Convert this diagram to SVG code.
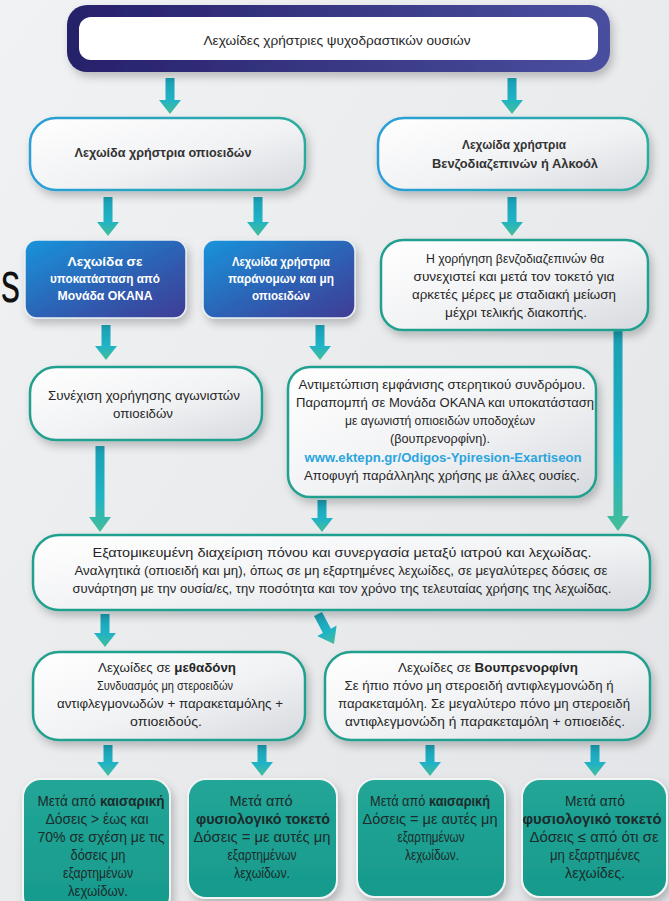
<svg xmlns="http://www.w3.org/2000/svg" width="669" height="901" viewBox="0 0 669 901">
<defs>
<linearGradient id="bg" x1="0" y1="0" x2="1" y2="1"><stop offset="0" stop-color="#f1f2f3"/><stop offset="1" stop-color="#e2e4e7"/></linearGradient>
<linearGradient id="navy" x1="0" y1="0" x2="1" y2="0"><stop offset="0" stop-color="#27206a"/><stop offset="1" stop-color="#4a4f9f"/></linearGradient>
<linearGradient id="wf" x1="0" y1="0" x2="1" y2="1"><stop offset="0" stop-color="#ffffff"/><stop offset="0.55" stop-color="#f1f2f4"/><stop offset="1" stop-color="#d6d9de"/></linearGradient>
<linearGradient id="bluestroke" x1="0" y1="0" x2="1" y2="0"><stop offset="0" stop-color="#2b9fd8"/><stop offset="1" stop-color="#2bab9c"/></linearGradient>
<linearGradient id="bluebox" x1="0" y1="0" x2="1" y2="1"><stop offset="0" stop-color="#1994db"/><stop offset="0.6" stop-color="#2f5cb0"/><stop offset="1" stop-color="#3f3c95"/></linearGradient>
<linearGradient id="tealbox" x1="0" y1="0" x2="0" y2="1"><stop offset="0" stop-color="#22a697"/><stop offset="1" stop-color="#179a8c"/></linearGradient>
<linearGradient id="arr" x1="0" y1="0" x2="0" y2="1"><stop offset="0" stop-color="#1a9fb4"/><stop offset="0.6" stop-color="#20b3c6"/><stop offset="1" stop-color="#45bd98"/></linearGradient>
<filter id="sh" x="-10%" y="-10%" width="125%" height="140%"><feDropShadow dx="3" dy="5" stdDeviation="4" flood-color="#000" flood-opacity="0.22"/></filter>
<style>
text{font-family:"Liberation Sans","DejaVu Sans",sans-serif;font-size:12.5px;fill:#262626;text-anchor:middle}
.t{font-size:12px}
.h{font-weight:bold;fill:#333;font-size:12.5px}
.w{fill:#ffffff;font-weight:bold;font-size:12.5px}
.lk{fill:#2aa5de;font-weight:bold}
.bt{font-size:14px;fill:#1c2b2b}
.b{font-weight:bold}
.wbox{fill:url(#wf);stroke:#23a08f;stroke-width:2.5;filter:url(#sh)}
.wboxb{fill:url(#wf);stroke:url(#bluestroke);stroke-width:2.5;filter:url(#sh)}
.blue{fill:url(#bluebox);stroke:#e9eef5;stroke-width:1.5;filter:url(#sh)}
.teal{fill:url(#tealbox);stroke:#f2f4f4;stroke-width:2;filter:url(#sh)}
.a{fill:url(#arr)}
</style>
</defs>
<rect width="669" height="901" fill="url(#bg)"/>
<text x="1" y="302" textLength="19" lengthAdjust="spacingAndGlyphs" style="font-size:58px;fill:#111;text-anchor:start">s</text>

<g id="connectors">
<path class="a" d="M165.5 78H174.5V100H181L170 114L159 100H165.5Z"/>
<path class="a" d="M507.5 78H516.5V100H523L512 114L501 100H507.5Z"/>
<path class="a" d="M103.5 197H112.5V222H119L108 236L97 222H103.5Z"/>
<path class="a" d="M253.5 197H262.5V222H269L258 236L247 222H253.5Z"/>
<path class="a" d="M507.5 197H516.5V222H523L512 236L501 222H507.5Z"/>
<path class="a" d="M101.5 325H110.5V346H117L106 360L95 346H101.5Z"/>
<path class="a" d="M315.5 325H324.5V346H331L320 360L309 346H315.5Z"/>
<path class="a" d="M613.5 331H622.5V516H629L618 531L607 516H613.5Z"/>
<path class="a" d="M95.5 446H104.5V517H111L100 532L89 517H95.5Z"/>
<path class="a" d="M317.5 500H326.5V518H333L322 532L311 518H317.5Z"/>
<path class="a" d="M100.5 614H109.5V633H116L105 647L94 633H100.5Z"/>
<path class="a" transform="rotate(-28 318 614)" d="M313.5 614H322.5V633H329L318 648L307 633H313.5Z"/>
<path class="a" d="M103.5 745H112.5V762H119L108 776L97 762H103.5Z"/>
<path class="a" d="M257.5 745H266.5V762H273L262 776L251 762H257.5Z"/>
<path class="a" d="M425.5 745H434.5V762H441L430 776L419 762H425.5Z"/>
<path class="a" d="M590.5 745H599.5V762H606L595 776L584 762H590.5Z"/>
</g>

<g id="title">
<rect x="67" y="5" width="543" height="67" rx="20" fill="url(#navy)" filter="url(#sh)"/>
<rect x="79" y="17" width="519" height="43" rx="12" fill="#ffffff"/>
<text class="t" x="337" y="45" textLength="267" lengthAdjust="spacingAndGlyphs">Λεχωίδες χρήστριες ψυχοδραστικών ουσιών</text>
</g>

<g id="opioid">
<rect class="wboxb" x="30" y="118" width="275" height="72" rx="26"/>
<text class="h" x="163" y="157" textLength="177" lengthAdjust="spacingAndGlyphs">Λεχωίδα χρήστρια οπιοειδών</text>
</g>

<g id="benzo">
<rect class="wboxb" x="378" y="118" width="270" height="72" rx="26"/>
<text class="h" x="514" y="149" textLength="104" lengthAdjust="spacingAndGlyphs">Λεχωίδα χρήστρια</text>
<text class="h" x="515" y="168" textLength="166" lengthAdjust="spacingAndGlyphs">Βενζοδιαζεπινών ή Αλκοόλ</text>
</g>

<g id="okana">
<rect class="blue" x="25" y="240" width="161" height="78" rx="12"/>
<text class="w" x="105" y="266" textLength="75" lengthAdjust="spacingAndGlyphs">Λεχωίδα  σε</text>
<text class="w" x="105" y="283" textLength="110" lengthAdjust="spacingAndGlyphs">υποκατάσταση από</text>
<text class="w" x="105" y="300" textLength="95" lengthAdjust="spacingAndGlyphs">Μονάδα ΟΚΑΝΑ</text>
</g>

<g id="illegal">
<rect class="blue" x="203" y="240" width="152" height="78" rx="12"/>
<text class="w" x="281" y="266" textLength="98" lengthAdjust="spacingAndGlyphs">Λεχωίδα χρήστρια</text>
<text class="w" x="281" y="283" textLength="106" lengthAdjust="spacingAndGlyphs">παράνομων και μη</text>
<text class="w" x="281" y="300" textLength="58" lengthAdjust="spacingAndGlyphs">οπιοειδών</text>
</g>

<g id="benzo-detail">
<rect class="wbox" x="381" y="240" width="267" height="90" rx="22"/>
<text x="515" y="263" textLength="178" lengthAdjust="spacingAndGlyphs">Η χορήγηση βενζοδιαζεπινών θα</text>
<text x="514" y="281" textLength="201" lengthAdjust="spacingAndGlyphs">συνεχιστεί και μετά τον τοκετό για</text>
<text x="514" y="299" textLength="204" lengthAdjust="spacingAndGlyphs">αρκετές μέρες με σταδιακή μείωση</text>
<text x="516" y="317" textLength="142" lengthAdjust="spacingAndGlyphs">μέχρι τελικής διακοπής.</text>
</g>

<g id="agonists">
<rect class="wbox" x="30" y="367" width="232" height="73" rx="26"/>
<text x="144" y="400" textLength="192" lengthAdjust="spacingAndGlyphs">Συνέχιση χορήγησης αγωνιστών</text>
<text x="143" y="418" textLength="60" lengthAdjust="spacingAndGlyphs">οπιοειδών</text>
</g>

<g id="withdrawal">
<rect class="wbox" x="288" y="367" width="308" height="130" rx="22"/>
<text x="442" y="389" textLength="287" lengthAdjust="spacingAndGlyphs">Αντιμετώπιση εμφάνισης στερητικού συνδρόμου.</text>
<text x="445" y="407" textLength="298" lengthAdjust="spacingAndGlyphs">Παραπομπή σε Μονάδα ΟΚΑΝΑ και υποκατάσταση</text>
<text x="440" y="425" textLength="190" lengthAdjust="spacingAndGlyphs">με αγωνιστή οπιοειδών υποδοχέων</text>
<text x="440" y="443" textLength="100" lengthAdjust="spacingAndGlyphs">(βουπρενορφίνη).</text>
<text class="lk" x="443" y="462" textLength="277" lengthAdjust="spacingAndGlyphs">www.ektepn.gr/Odigos-Ypiresion-Exartiseon</text>
<text x="442" y="480" textLength="276" lengthAdjust="spacingAndGlyphs">Αποφυγή παράλληλης χρήσης με άλλες ουσίες.</text>
</g>

<g id="pain">
<rect class="wbox" x="33" y="535" width="617" height="75" rx="26"/>
<text x="342" y="557" textLength="499" lengthAdjust="spacingAndGlyphs">Εξατομικευμένη διαχείριση πόνου και συνεργασία μεταξύ ιατρού και λεχωίδας.</text>
<text x="341" y="575" textLength="533" lengthAdjust="spacingAndGlyphs">Αναλγητικά (οπιοειδή και μη), όπως σε μη εξαρτημένες λεχωίδες, σε μεγαλύτερες δόσεις σε</text>
<text x="342" y="593" textLength="539" lengthAdjust="spacingAndGlyphs">συνάρτηση με την ουσία/ες, την ποσότητα και τον χρόνο της τελευταίας χρήσης της λεχωίδας.</text>
</g>

<g id="methadone">
<rect class="wbox" x="33" y="652" width="272" height="88" rx="26"/>
<text x="167" y="672" textLength="138" lengthAdjust="spacingAndGlyphs">Λεχωίδες σε <tspan class="b">μεθαδόνη</tspan></text>
<text x="165" y="690" textLength="136" lengthAdjust="spacingAndGlyphs">Συνδυασμός μη στεροειδών</text>
<text x="170" y="708" textLength="226" lengthAdjust="spacingAndGlyphs">αντιφλεγμονωδών + παρακεταμόλης +</text>
<text x="166" y="726" textLength="72" lengthAdjust="spacingAndGlyphs">οπιοειδούς.</text>
</g>

<g id="buprenorphine">
<rect class="wbox" x="325" y="652" width="325" height="88" rx="26"/>
<text x="488" y="672" textLength="180" lengthAdjust="spacingAndGlyphs">Λεχωίδες σε <tspan class="b">Βουπρενορφίνη</tspan></text>
<text x="479" y="690" textLength="269" lengthAdjust="spacingAndGlyphs">Σε  ήπιο πόνο μη στεροειδή αντιφλεγμονώδη ή</text>
<text x="484" y="708" textLength="292" lengthAdjust="spacingAndGlyphs">παρακεταμόλη. Σε μεγαλύτερο πόνο μη στεροειδή</text>
<text x="485" y="726" textLength="280" lengthAdjust="spacingAndGlyphs">αντιφλεγμονώδη ή παρακεταμόλη + οπιοειδές.</text>
</g>

<g id="m-cesarean">
<rect class="teal" x="23" y="779" width="147" height="135" rx="18"/>
<text class="bt" x="101" y="806" textLength="127" lengthAdjust="spacingAndGlyphs">Μετά από <tspan class="b">καισαρική</tspan></text>
<text class="bt" x="97" y="824" textLength="103" lengthAdjust="spacingAndGlyphs">Δόσεις &gt; έως και</text>
<text class="bt" x="101" y="842" textLength="127" lengthAdjust="spacingAndGlyphs">70% σε σχέση με τις</text>
<text class="bt" x="98" y="860" textLength="55" lengthAdjust="spacingAndGlyphs">δόσεις μη</text>
<text class="bt" x="98" y="878" textLength="70" lengthAdjust="spacingAndGlyphs">εξαρτημένων</text>
<text class="bt" x="98" y="896" textLength="60" lengthAdjust="spacingAndGlyphs">λεχωίδων.</text>
</g>

<g id="m-natural">
<rect class="teal" x="188" y="779" width="149" height="119" rx="18"/>
<text class="bt" x="261" y="806" textLength="63" lengthAdjust="spacingAndGlyphs">Μετά από</text>
<text class="bt b" x="263" y="824" textLength="134" lengthAdjust="spacingAndGlyphs">φυσιολογικό τοκετό</text>
<text class="bt" x="262" y="842" textLength="137" lengthAdjust="spacingAndGlyphs">Δόσεις = με αυτές μη</text>
<text class="bt" x="262" y="860" textLength="69" lengthAdjust="spacingAndGlyphs">εξαρτημένων</text>
<text class="bt" x="262" y="878" textLength="56" lengthAdjust="spacingAndGlyphs">λεχωίδων.</text>
</g>

<g id="b-cesarean">
<rect class="teal" x="357" y="779" width="148" height="118" rx="18"/>
<text class="bt" x="430" y="806" textLength="120" lengthAdjust="spacingAndGlyphs">Μετά από <tspan class="b">καισαρική</tspan></text>
<text class="bt" x="430" y="824" textLength="135" lengthAdjust="spacingAndGlyphs">Δόσεις = με αυτές μη</text>
<text class="bt" x="431" y="842" textLength="67" lengthAdjust="spacingAndGlyphs">εξαρτημένων</text>
<text class="bt" x="432" y="860" textLength="54" lengthAdjust="spacingAndGlyphs">λεχωίδων.</text>
</g>

<g id="b-natural">
<rect class="teal" x="522" y="779" width="145" height="118" rx="18"/>
<text class="bt" x="595" y="806" textLength="60" lengthAdjust="spacingAndGlyphs">Μετά από</text>
<text class="bt b" x="592" y="824" textLength="139" lengthAdjust="spacingAndGlyphs">φυσιολογικό τοκετό</text>
<text class="bt" x="594" y="842" textLength="129" lengthAdjust="spacingAndGlyphs">Δόσεις ≤ από ότι σε</text>
<text class="bt" x="595" y="860" textLength="90" lengthAdjust="spacingAndGlyphs">μη εξαρτημένες</text>
<text class="bt" x="595" y="878" textLength="60" lengthAdjust="spacingAndGlyphs">λεχωίδες.</text>
</g>
</svg>
